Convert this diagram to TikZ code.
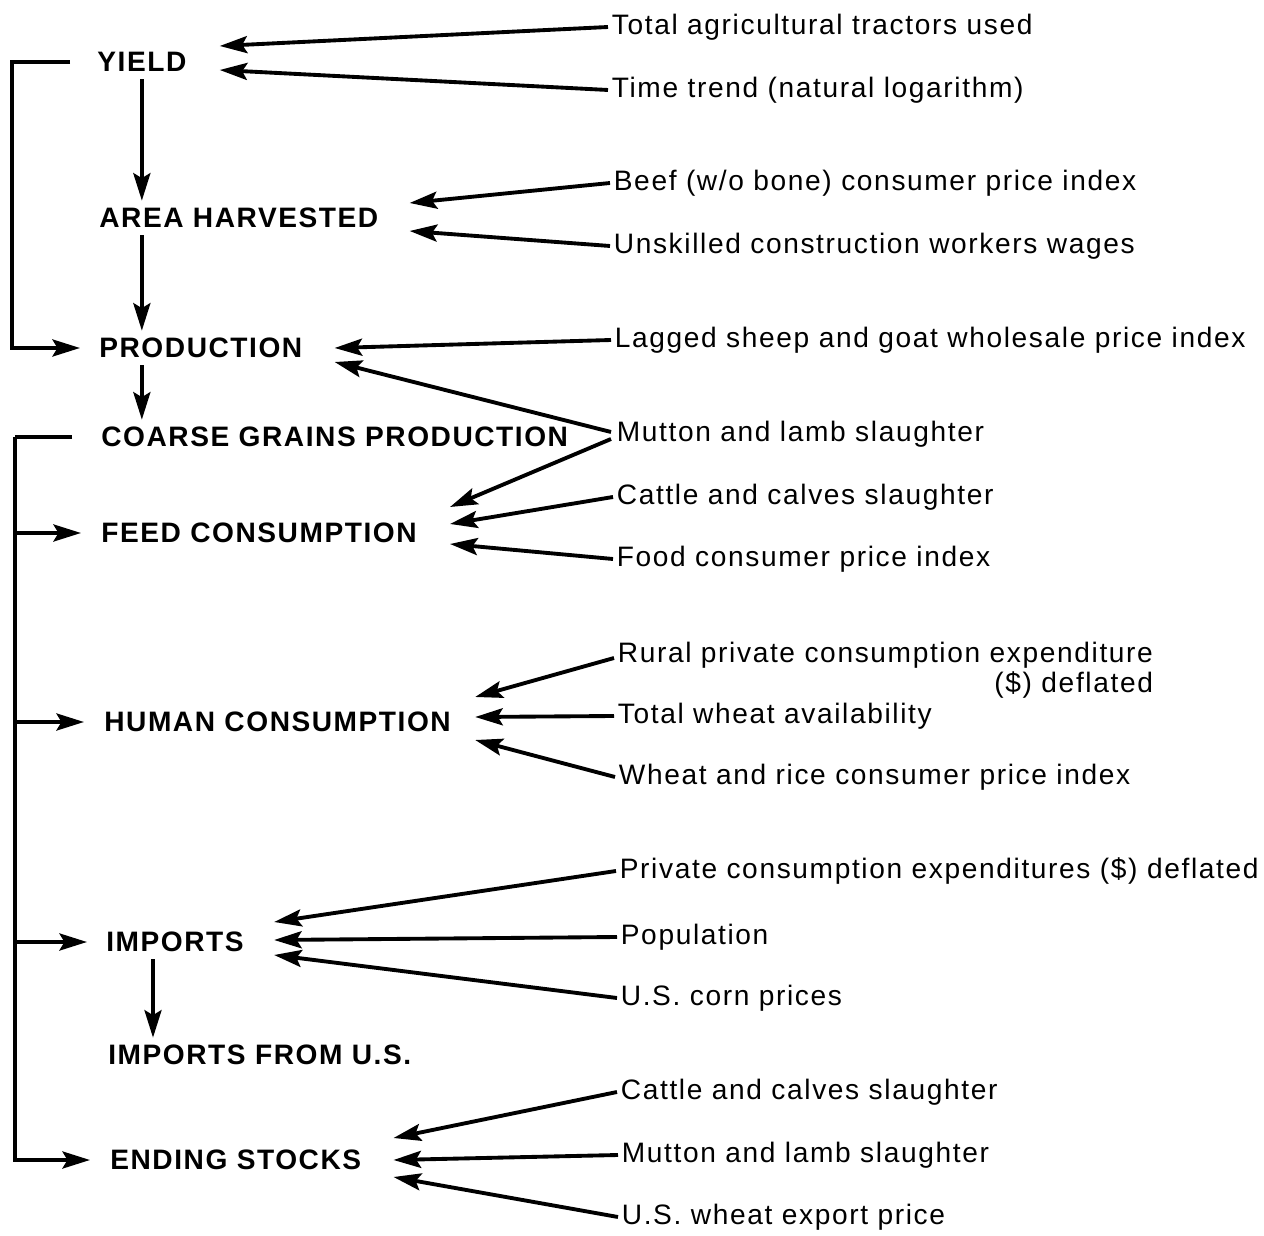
\documentclass[tikz,border=0pt]{standalone}
\usepackage{fontspec}
\setmainfont{Liberation Sans}[LetterSpace=5.8]
\newfontfamily\headfont{Liberation Sans}[LetterSpace=5.5]
\usetikzlibrary{arrows.meta,calc}

\tikzset{
  var/.style={anchor=west, inner sep=4pt, font=\headfont\bfseries\fontsize{16}{19}\selectfont},
  factor/.style={anchor=west, inner sep=2pt, font=\fontsize{16}{17}\selectfont},
  link/.style={line width=2.2pt, -{Stealth[length=5.5mm,width=3.4mm,inset=1mm]}},
  bar/.style={line width=2.2pt}
}

\begin{document}
\begin{tikzpicture}[x=0.02cm, y=-0.02cm]
            \useasboundingbox (0,0) rectangle (1264,1236);

            \node[var] (yield) at (90,62) {YIELD};
            \node[var] (area) at (92,218) {AREA HARVESTED};
            \node[var] (prod) at (92,348) {PRODUCTION};
            \node[var] (coarse) at (94,437) {COARSE GRAINS PRODUCTION};
            \node[var] (feed) at (94,533) {FEED CONSUMPTION};
            \node[var] (human) at (97,722) {HUMAN CONSUMPTION};
            \node[var] (imp) at (99,942) {IMPORTS};
            \node[var] (impus) at (101,1055) {IMPORTS FROM U.S.};
            \node[var] (stocks) at (103,1160) {ENDING STOCKS};

            \node[factor] (tractors) at (608,27) {Total agricultural tractors used};
            \node[factor] (trend) at (608,90) {Time trend (natural logarithm)};
            \node[factor] (beef) at (610,183) {Beef (w/o bone) consumer price index};
            \node[factor] (wages) at (610,246) {Unskilled construction workers wages};
            \node[factor] (sheep) at (611,340) {Lagged sheep and goat wholesale price index};
            \node[factor] (mutton) at (613,434) {Mutton and lamb slaughter};
            \node[factor] (cattle) at (613,497) {Cattle and calves slaughter};
            \node[factor] (food) at (613,559) {Food consumer price index};
            \node[factor, anchor=north west, align=right] (rural) at (614,638) {Rural private consumption expenditure\\(\$) deflated};
            \node[factor] (wheat) at (614,716) {Total wheat availability};
            \node[factor] (rice) at (615,777) {Wheat and rice consumer price index};
            \node[factor] (private) at (616,871) {Private consumption expenditures (\$) deflated};
            \node[factor] (pop) at (617,937) {Population};
            \node[factor] (corn) at (617,998) {U.S. corn prices};
            \node[factor] (cattleb) at (617,1092) {Cattle and calves slaughter};
            \node[factor] (muttonb) at (618,1155) {Mutton and lamb slaughter};
            \node[factor] (export) at (618,1217) {U.S. wheat export price};

            \draw[link] (yield.south) -- (yield.south |- area.north);
            \draw[link] (yield.south |- area.south) -- (yield.south |- prod.north);
            \draw[link] (yield.south |- prod.south) -- (yield.south |- coarse.north);
            \coordinate (drop) at ($(imp.south west)+(54,0)$);
            \draw[link] (drop) -- (drop |- impus.north);

            \coordinate (b1) at (12,62);
            \draw[link] ($(yield.west)+(-20,0)$) -- (b1) |- ($(prod.west)+(-12,0)$);
            \coordinate (b2) at (15,437);
            \draw[bar] ($(coarse.west)+(-22,0)$) -- (b2);
            \draw[link] (b2) |- ($(feed.west)+(-13,0)$);
            \draw[link] (b2) |- ($(human.west)+(-13,0)$);
            \draw[link] (b2) |- ($(imp.west)+(-12,0)$);
            \draw[link] (b2) |- ($(stocks.west)+(-13,0)$);

            \draw[link] (tractors.west) -- ($(yield.east)+(26,-16)$);
            \draw[link] (trend.west) -- ($(yield.east)+(26,8)$);
            \draw[link] (beef.west) -- ($(area.east)+(24,-15)$);
            \draw[link] (wages.west) -- ($(area.east)+(24,13)$);
            \draw[link] (sheep.west) -- ($(prod.east)+(25,0)$);
            \draw[link] ($(mutton.west)+(-2,-2)$) -- ($(prod.east)+(25,14)$);
            \draw[link] ($(mutton.west)+(-2,5)$) -- ($(feed.east)+(26,-26)$);
            \draw[link] (cattle.west) -- ($(feed.east)+(26,-9)$);
            \draw[link] (food.west) -- ($(feed.east)+(26,11)$);
            \draw[link] ($(rural.north west)+(0,20)$) -- ($(human.east)+(17,-25)$);
            \draw[link] (wheat.west) -- ($(human.east)+(17,-5)$);
            \draw[link] (rice.west) -- ($(human.east)+(17,18)$);
            \draw[link] (private.west) -- ($(imp.east)+(23,-20)$);
            \draw[link] (pop.west) -- ($(imp.east)+(23,-2)$);
            \draw[link] (corn.west) -- ($(imp.east)+(23,13)$);
            \draw[link] (cattleb.west) -- ($(stocks.east)+(25,-22)$);
            \draw[link] (muttonb.west) -- ($(stocks.east)+(25,0)$);
            \draw[link] (export.west) -- ($(stocks.east)+(25,17)$);
\end{tikzpicture}
\end{document}
